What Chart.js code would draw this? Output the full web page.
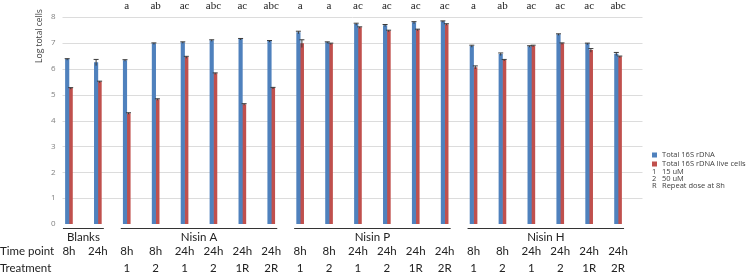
<!DOCTYPE html>
<html>
<head>
<meta charset="utf-8">
<script src="https://cdn.jsdelivr.net/npm/chart.js@4"></script>
<style>
  html, body { margin: 0; padding: 0; background: #fff; }
  #wrap { width: 747px; height: 273px; position: relative; }
</style>
</head>
<body>
<div id="wrap"><canvas id="cellsChart" width="747" height="273"></canvas></div>
<script>
// chart values
var timePoints = ['8h', '24h', '8h', '8h', '24h', '24h', '24h', '24h', '8h', '8h', '24h', '24h', '24h', '24h', '8h', '8h', '24h', '24h', '24h', '24h'];
var treatments = ['', '', '1', '2', '1', '2', '1R', '2R', '1', '2', '1', '2', '1R', '2R', '1', '2', '1', '2', '1R', '2R'];
var sigLetters = ['', '', 'a', 'ab', 'ac', 'abc', 'ac', 'abc', 'a', 'a', 'ac', 'ac', 'ac', 'ac', 'a', 'ab', 'ac', 'ac', 'ac', 'abc'];
var groupNames = ['Blanks', 'Nisin A', 'Nisin P', 'Nisin H'];
var groupFirst = [0, 2, 8, 14];
var groupLast = [1, 7, 13, 19];
var total16S = [6.36, 6.24, 6.32, 6.97, 7.01, 7.09, 7.14, 7.06, 7.40, 7.01, 7.72, 7.67, 7.78, 7.82, 6.87, 6.56, 6.86, 7.32, 6.96, 6.57];
var total16SErr = [0.03, 0.12, 0.03, 0.03, 0.03, 0.03, 0.03, 0.03, 0.05, 0.03, 0.04, 0.04, 0.04, 0.03, 0.04, 0.05, 0.03, 0.03, 0.03, 0.06];
var live16S = [5.24, 5.49, 4.27, 4.81, 6.44, 5.81, 4.62, 5.25, 6.97, 6.96, 7.59, 7.46, 7.50, 7.71, 6.05, 6.33, 6.88, 6.97, 6.71, 6.46];
var live16SErr = [0.03, 0.03, 0.03, 0.03, 0.04, 0.03, 0.03, 0.03, 0.15, 0.03, 0.03, 0.03, 0.03, 0.03, 0.06, 0.03, 0.03, 0.03, 0.07, 0.03];
var yTicks = [0, 1, 2, 3, 4, 5, 6, 7, 8];
var legendNotes = [['1', '15 uM'], ['2', '50 uM'], ['R', 'Repeat dose at 8h']];

var labels = timePoints.map(function(t, i) { return t + ' ' + treatments[i]; });

// gridlines, error bars and all the text below/above the plot
var extrasPlugin = {
    id: 'extras',
    beforeDatasetsDraw: function(chart) {
        var ctx = chart.ctx, y = chart.scales.y, area = chart.chartArea;
        ctx.save();
        ctx.strokeStyle = '#dcdcdc';
        ctx.lineWidth = 1;
        yTicks.forEach(function(v) {
            if (v === 0) return;
            var py = Math.round(y.getPixelForValue(v)) + 0.5;
            ctx.beginPath();
            ctx.moveTo(area.left + 8, py);
            ctx.lineTo(area.right + 10, py);
            ctx.stroke();
        });
        ctx.restore();
    },
    afterDraw: function(chart) {
        var ctx = chart.ctx, x = chart.scales.x, y = chart.scales.y, area = chart.chartArea;
        ctx.save();

        // error bars
        var errs = [total16SErr, live16SErr];
        chart.data.datasets.forEach(function(ds, d) {
            var meta = chart.getDatasetMeta(d);
            meta.data.forEach(function(bar, i) {
                var top = y.getPixelForValue(ds.data[i] + errs[d][i]);
                var bot = y.getPixelForValue(ds.data[i] - errs[d][i]);
                ctx.strokeStyle = '#3a3a3a';
                ctx.lineWidth = 1;
                ctx.beginPath();
                ctx.moveTo(bar.x, top);
                ctx.lineTo(bar.x, bot);
                ctx.moveTo(bar.x - 2.5, top);
                ctx.lineTo(bar.x + 2.5, top);
                ctx.stroke();
            });
        });

        // y tick labels
        ctx.fillStyle = '#808080';
        ctx.font = '8px "Open Sans"';
        ctx.textAlign = 'right';
        ctx.textBaseline = 'middle';
        yTicks.forEach(function(v) {
            ctx.fillText(String(v), area.left + 1, y.getPixelForValue(v));
        });

        // y axis title
        ctx.save();
        ctx.translate(40, 36);
        ctx.rotate(-Math.PI / 2);
        ctx.fillStyle = '#404040';
        ctx.font = '8.5px "Open Sans"';
        ctx.textAlign = 'center';
        ctx.fillText('Log total cells', 0, 0);
        ctx.restore();

        // significance letters
        ctx.fillStyle = '#222';
        ctx.font = '11px "Liberation Serif"';
        ctx.textAlign = 'center';
        ctx.textBaseline = 'alphabetic';
        sigLetters.forEach(function(s, i) {
            ctx.fillText(s, x.getPixelForValue(i), 9);
        });

        // group brackets and names
        ctx.font = '11.5px Lato';
        ctx.fillStyle = '#222';
        ctx.strokeStyle = '#333';
        groupNames.forEach(function(g, k) {
            var x0 = x.getPixelForValue(groupFirst[k]) - 6;
            var x1 = x.getPixelForValue(groupLast[k]) + 6;
            ctx.beginPath();
            ctx.moveTo(x0, 228.5);
            ctx.lineTo(x1, 228.5);
            ctx.stroke();
            ctx.textBaseline = 'middle';
            ctx.fillText(g, (x0 + x1) / 2, 237);
        });

        // time point / treatment rows
        ctx.textAlign = 'left';
        ctx.fillText('Time point', 0, 251);
        ctx.fillText('Treatment', 0, 268);
        ctx.textAlign = 'center';
        timePoints.forEach(function(t, i) {
            var px = x.getPixelForValue(i);
            ctx.fillText(t, px, 251);
            ctx.fillText(treatments[i], px, 268);
        });

        // legend
        ctx.font = '7.5px "Open Sans"';
        ctx.textAlign = 'left';
        ctx.textBaseline = 'middle';
        var ly = [155, 164];
        chart.data.datasets.forEach(function(ds, d) {
            ctx.fillStyle = ds.backgroundColor;
            ctx.fillRect(652, ly[d] - 2.5, 5, 5);
            ctx.fillStyle = '#404040';
            ctx.fillText(ds.label, 662, ly[d]);
        });
        var ny = [172, 179, 186];
        legendNotes.forEach(function(n, k) {
            ctx.fillText(n[0], 652, ny[k]);
            ctx.fillText(n[1], 662, ny[k]);
        });

        ctx.restore();
    }
};

var ctx = document.getElementById('cellsChart').getContext('2d');
var cellsChart = new Chart(ctx, {
    type: 'bar',
    data: {
        labels: labels,
        datasets: [{
            label: 'Total 16S rDNA',
            data: total16S,
            backgroundColor: '#4f81bd',
            barThickness: 3.5
        }, {
            label: 'Total 16S rDNA live cells',
            data: live16S,
            backgroundColor: '#c0504d',
            barThickness: 3.5
        }]
    },
    options: {
        responsive: false,
        animation: false,
        layout: { padding: { top: 17, bottom: 49, left: 0, right: 114.5 } },
        plugins: {
            legend: { display: false },
            tooltip: { enabled: false }
        },
        scales: {
            x: { display: false },
            y: {
                min: 0,
                max: 8,
                ticks: { display: false, stepSize: 1 },
                grid: { display: false },
                border: { display: false },
                afterFit: function(scale) { scale.width = 54.5; }
            }
        }
    },
    plugins: [extrasPlugin]
});
</script>
</body>
</html>
